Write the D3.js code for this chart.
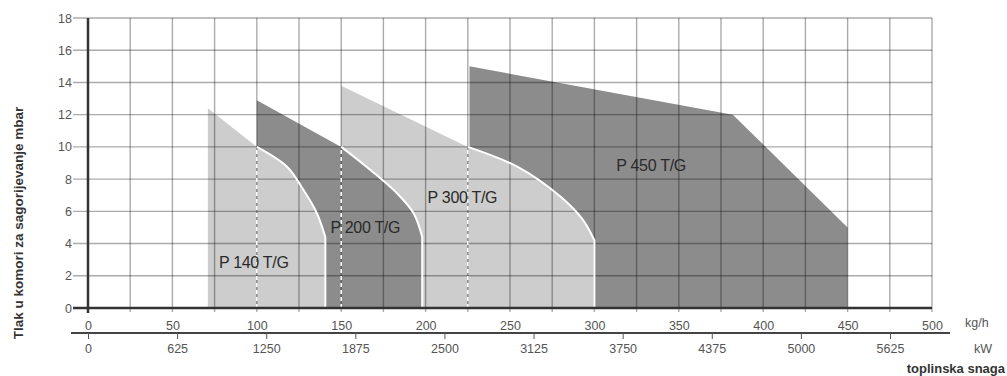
<!DOCTYPE html>
<html><head><meta charset="utf-8">
<script src="https://cdn.jsdelivr.net/npm/d3@7"></script>
<style>
html,body{margin:0;padding:0;background:#fff;}
svg{display:block;font-family:"Liberation Sans",Arial,sans-serif;}
</style></head>
<body>
<svg id="chart" width="1007" height="376"></svg>
<script>
// ---- data ----
const kgTicks = [0,50,100,150,200,250,300,350,400,450,500];
const kwTicks = [0,625,1250,1875,2500,3125,3750,4375,5000,5625];
const yTicks = [0,2,4,6,8,10,12,14,16,18];
const seriesNames = ["P 450 T/G","P 300 T/G","P 200 T/G","P 140 T/G"];
// outline points [kg/h, mbar]
const p450Outline = [[226,0],[226,15.0],[382,12.0],[450,5.0],[450,0]];
const p300Top = [[150,0],[150,13.8],[225,10]];
const p300Curve = [[225,10],[254.3,8.77],[280,6.9],[293,5.5],[300,4.2]];
const p300End = [300,0];
const p200Top = [[100,0],[100,12.9],[150,10]];
const p200Curve = [[150,10],[167.3,8.57],[183.1,7.12],[192.9,5.88],[198,4.4]];
const p200End = [198,0];
const p140Top = [[71,0],[71,12.4],[100,10]];
const p140Curve = [[100,10],[117.9,8.77],[127.7,7.32],[135.6,5.88],[140.6,4.4]];
const p140End = [140.6,0];
const dashedAt = [100,150,225];
const dashedTop = 10;
const labelPos = [[333.6,8.5],[221.8,6.5],[164.3,4.66],[98.2,2.5]];

// ---- scales ----
const x = d3.scaleLinear().domain([0,500]).range([88,932]);
const xkw = d3.scaleLinear().domain([0,5625]).range([88,890]);
const y = d3.scaleLinear().domain([0,18]).range([308,18]);

const svg = d3.select("#chart");
const lin = d3.line().x(d=>x(d[0])).y(d=>y(d[1]));
const crv = d3.line().x(d=>x(d[0])).y(d=>y(d[1])).curve(d3.curveCatmullRom.alpha(0.5));

function shapePath(top, curve, end){
  return lin(top) + crv(curve).replace(/^M/,"L") + "L" + x(end[0]) + "," + y(end[1]) + "Z";
}
function edgePath(curve, end){
  return crv(curve) + "L" + x(end[0]) + "," + y(end[1]);
}
const light = "#cdcdcd", dark = "#8c8c8c";

// fills (back to front)
svg.append("path").attr("d", lin(p450Outline)+"Z").attr("fill", dark);
svg.append("path").attr("d", shapePath(p300Top,p300Curve,p300End)).attr("fill", light);
svg.append("path").attr("d", shapePath(p200Top,p200Curve,p200End)).attr("fill", dark);
svg.append("path").attr("d", shapePath(p140Top,p140Curve,p140End)).attr("fill", light);

// grid
const grid = svg.append("g").attr("stroke","#000").attr("stroke-opacity",0.33).attr("stroke-width",1.4);
d3.range(0,501,25).forEach(v=>{
  grid.append("line").attr("x1",x(v)).attr("x2",x(v)).attr("y1",y(18)).attr("y2",312);
});
yTicks.forEach(v=>{
  grid.append("line").attr("x1",73).attr("x2",x(500)).attr("y1",y(v)).attr("y2",y(v));
});

// white edges
[[p300Curve,p300End],[p200Curve,p200End],[p140Curve,p140End]].forEach(([c,e])=>{
  svg.append("path").attr("d", edgePath(c,e)).attr("fill","none").attr("stroke","#fff").attr("stroke-width",2);
});
dashedAt.forEach(v=>{
  svg.append("line").attr("x1",x(v)).attr("x2",x(v)).attr("y1",y(0)).attr("y2",y(dashedTop))
    .attr("stroke","#fff").attr("stroke-width",1.6).attr("stroke-dasharray","4,3");
});

// main axis lines
svg.append("line").attr("x1",73).attr("x2",x(500)).attr("y1",y(0)).attr("y2",y(0)).attr("stroke","#333").attr("stroke-width",2.5);
svg.append("line").attr("x1",x(0)).attr("x2",x(0)).attr("y1",y(18)).attr("y2",313).attr("stroke","#333").attr("stroke-width",2.5);
svg.append("line").attr("x1",71).attr("x2",950).attr("y1",333).attr("y2",333).attr("stroke","#444").attr("stroke-width",2);

// axes labels
const tickStyle = g=>{
  g.select(".domain").remove();
  g.selectAll("text").attr("fill","#555").attr("font-size","12.5px").attr("font-family","'Liberation Sans',Arial,sans-serif");
  g.selectAll("line").attr("stroke","#555");
};
svg.append("g").attr("transform","translate(0,308)")
  .call(d3.axisBottom(x).tickValues(kgTicks).tickSize(0).tickPadding(13).tickFormat(d3.format("d"))).call(tickStyle);
svg.append("g").attr("transform","translate(0,333)")
  .call(d3.axisBottom(xkw).tickValues(kwTicks).tickSize(6).tickPadding(5).tickFormat(d3.format("d"))).call(tickStyle);
svg.append("g").attr("transform","translate(88,0)")
  .call(d3.axisLeft(y).tickValues(yTicks).tickSize(0).tickPadding(16).tickFormat(d3.format("d"))).call(tickStyle);

// series labels
seriesNames.forEach((n,i)=>{
  svg.append("text").attr("x",x(labelPos[i][0])).attr("y",y(labelPos[i][1]))
    .attr("text-anchor","middle").attr("font-size","16px").attr("letter-spacing","-0.3px")
    .attr("fill","#2a2a2a").text(n);
});

// unit labels
svg.append("text").attr("x",965).attr("y",327).attr("font-size","12.5px").attr("fill","#555").text("kg/h");
svg.append("text").attr("x",974).attr("y",353).attr("font-size","12.5px").attr("fill","#555").text("kW");
svg.append("text").attr("x",1005).attr("y",373).attr("text-anchor","end").attr("font-size","13px")
  .attr("font-weight","bold").attr("fill","#333").text("toplinska snaga");
svg.append("text").attr("transform","translate(23,223) rotate(-90)").attr("text-anchor","middle")
  .attr("font-size","13.5px").attr("font-weight","bold").attr("fill","#333").text("Tlak u komori za sagorijevanje mbar");
</script>
</body></html>
